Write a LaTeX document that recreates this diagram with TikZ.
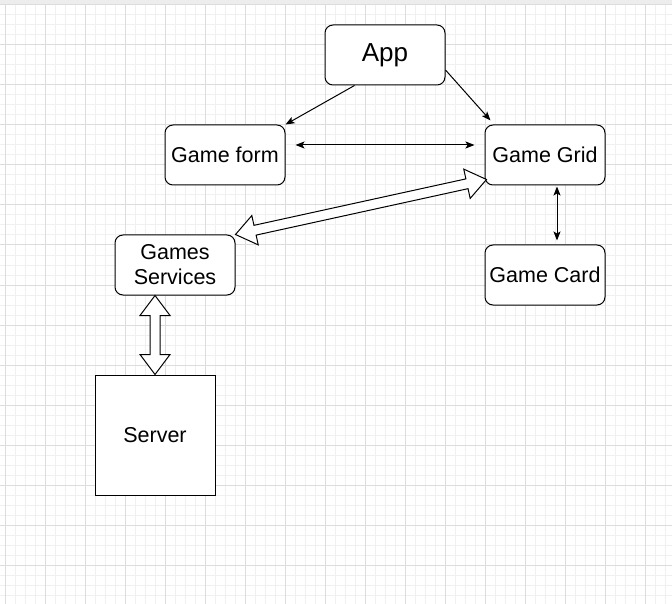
\documentclass[tikz,border=0pt]{standalone}
\usepackage{fontspec}
\setmainfont{Liberation Sans}
\usetikzlibrary{calc,arrows.meta}
\definecolor{minorgrid}{HTML}{F0F0F0}
\definecolor{majorgrid}{HTML}{DCDCDC}
\definecolor{topband}{HTML}{EDEDED}
\tikzset{
 box/.style={draw=black, fill=white, line width=1pt, rounded corners=8pt, minimum width=120pt, minimum height=60pt, inner sep=0pt, align=center, font=\fontsize{21.5}{25}\selectfont},
 sqbox/.style={box, rounded corners=0pt, minimum height=120pt},
 tip/.tip={Stealth[length=9pt,width=7pt,inset=2pt]},
 twoway/.style={line width=1pt, tip-tip},
 oneway/.style={line width=1pt, -tip},
 flexbody/.style={draw=black, fill=white, line width=1pt, line join=miter},
}
\newcommand\flexarr[2]{%
\draw[flexbody]
 (#1)
 -- ($(#1)!20pt!(#2)!15pt!90:(#2)$)
 -- ($(#1)!20pt!(#2)!5pt!90:(#2)$)
 -- ($(#2)!20pt!(#1)!5pt!-90:(#1)$)
 -- ($(#2)!20pt!(#1)!15pt!-90:(#1)$)
 -- (#2)
 -- ($(#2)!20pt!(#1)!15pt!90:(#1)$)
 -- ($(#2)!20pt!(#1)!5pt!90:(#1)$)
 -- ($(#1)!20pt!(#2)!5pt!-90:(#2)$)
 -- ($(#1)!20pt!(#2)!15pt!-90:(#2)$)
 -- cycle;}
\begin{document}
\begin{tikzpicture}[x=1pt,y=-1pt]
\useasboundingbox (0,0) rectangle (672,604);
\fill[white] (0,0) rectangle (672,604);
% grid
\foreach \gx in {5,15,...,665} \draw[minorgrid, line width=1pt] (\gx,5) -- (\gx,604);
\foreach \gy in {15,25,...,595} \draw[minorgrid, line width=1pt] (0,\gy) -- (672,\gy);
\foreach \gx in {5,45,...,645} \draw[majorgrid, line width=1pt] (\gx,5) -- (\gx,604);
\foreach \gy in {45,85,...,565} \draw[majorgrid, line width=1pt] (0,\gy) -- (672,\gy);
\fill[topband] (0,0) rectangle (672,5);
\draw[majorgrid, line width=1pt] (0,4.5) -- (672,4.5);
% nodes
\node[box, font=\fontsize{26}{30}\selectfont] (app) at (385,55) {App};
\node[box] (gform) at (225,155) {Game form};
\node[box] (ggrid) at (545,155) {Game Grid};
\node[box] (gserv) at (175,265) {Games\\Services};
\node[box] (gcard) at (545,275) {Game Card};
\node[sqbox] (server) at (155,435) {Server};
% thin connectors
\draw[oneway] ($(app.south west)+(30,0)$) -- (gform.north east);
\draw[oneway] ($(app.east)+(0,15)$) -- ($(ggrid.north west)+(6,-4)$);
\draw[twoway] ($(gform.east)+(10,-10)$) -- ($(ggrid.west)+(-10,-10)$);
\draw[twoway] ($(ggrid.south)+(12,1)$) -- ($(gcard.north)+(12,-4)$);
% flex arrows
\coordinate (f1) at (gserv.north east);
\coordinate (f2) at ($(ggrid.south west)+(2,-6)$);
\coordinate (f3) at ($(gserv.south)+(-20,0)$);
\flexarr{f1}{f2}
\flexarr{f3}{server.north}
\end{tikzpicture}
\end{document}
